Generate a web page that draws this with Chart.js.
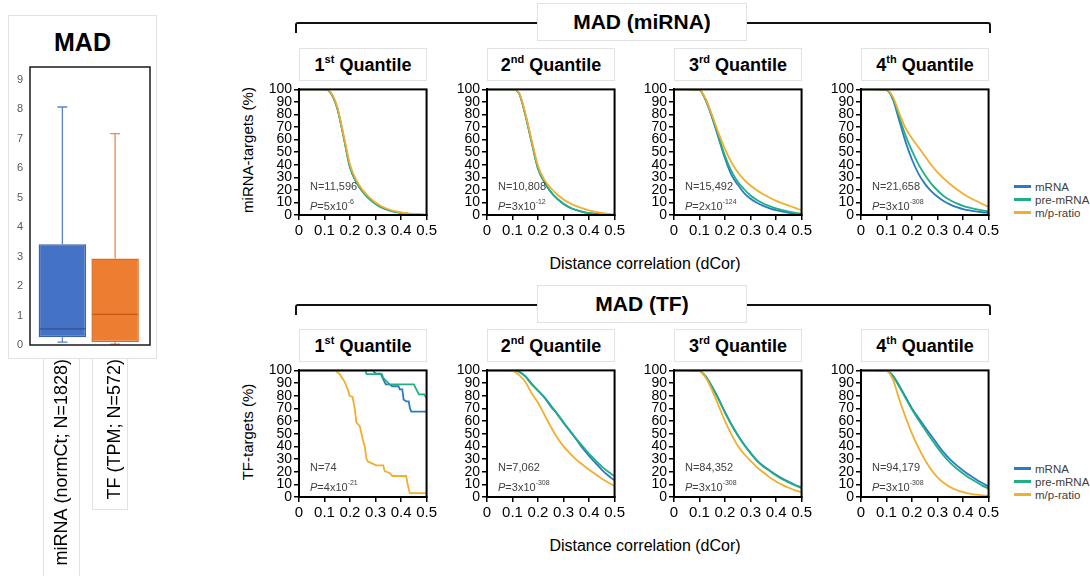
<!DOCTYPE html>
<html>
<head>
<meta charset="utf-8">
<script src="https://cdn.jsdelivr.net/npm/chart.js@4.4.1/dist/chart.umd.min.js"></script>
<style>
body{margin:0;width:1090px;height:576px;background:#fff;position:relative;overflow:hidden;font-family:"Liberation Sans",Arial,sans-serif;color:#000;}
canvas{position:absolute;z-index:2;}
.box{position:absolute;box-sizing:border-box;border:1px solid #e2e2e2;background:#fff;}
.qt{display:flex;align-items:center;justify-content:center;font-weight:bold;font-size:18px;z-index:1;}
.qt sup{font-size:11px;position:relative;top:-1px;}
.big{display:flex;align-items:center;justify-content:center;font-weight:bold;font-size:21px;z-index:3;}
.bracket{position:absolute;box-sizing:border-box;border:2px solid #111;border-bottom:none;border-radius:3px 3px 0 0;z-index:1;}
.ytitle{position:absolute;width:200px;height:20px;line-height:20px;text-align:center;font-size:15px;transform:rotate(-90deg);}
.xtitle{position:absolute;width:300px;height:20px;line-height:20px;text-align:center;font-size:16px;}
.note{position:absolute;font-size:11px;color:#404040;line-height:13px;z-index:3;white-space:nowrap;}
.note sup{font-size:7px;position:relative;top:-1px;}
.leg{position:absolute;font-size:11.5px;color:#404040;line-height:13px;white-space:nowrap;}
.leg span{display:inline-block;width:17px;height:3px;vertical-align:middle;margin-right:4px;position:relative;top:-1px;}
</style>
</head>
<body>
<script>
// ---- box plot (MAD) ----
const boxLabels = ["miRNA (normCt; N=1828)", "TF (TPM; N=572)"];
const boxMin = [0.1, 0.03];
const boxQ1 = [0.26, 0.1];
const boxMedian = [0.55, 1.04];
const boxQ3 = [3.42, 2.93];
const boxMax = [8.07, 7.17];

// ---- cumulative curves ----
const dcor = [0,0.05,0.1,0.125,0.15,0.175,0.2,0.225,0.25,0.275,0.3,0.325,0.35,0.375,0.4,0.425,0.45,0.475,0.5];

const mirnaMrna = [
[100,100,100,97,85,62,38,26,18.5,13,9,6,4,2.6,1.7,1.1,0.6,0.3,0.1],
[100,100,100,97,80,58,37,26,18.5,13,9,6,4,2.5,1.5,0.9,0.5,0.2,0.1],
[100,100,99.5,91,77,61,45,32,24,17.5,13,9.8,7.3,5.3,3.8,2.6,1.7,1,0.5],
[100,100,99.5,92,75,58,44,33,25,19,14.5,11,8.3,6.3,4.7,3.6,2.8,2.2,1.8]
];
const mirnaPre = [
[100,100,100,97,85,62,38,26,18.3,12.8,8.8,5.8,3.9,2.5,1.6,1,0.5,0.3,0.1],
[100,100,100,97,80,58,37,26,18.3,12.8,8.8,5.8,3.8,2.4,1.4,0.8,0.4,0.2,0.1],
[100,100,99.5,91.5,78,62.5,47,35,26.5,20.5,15.5,12,9.2,7,5.2,3.8,2.6,1.7,1],
[100,100,99.6,93,78,63,51,40.5,32,25,19.5,15,11.8,9.2,7.3,5.8,4.6,3.6,2.9]
];
const mirnaRatio = [
[100,100,100,97.5,86,63.5,40,27.5,19.8,14.3,10,6.8,4.6,3,2,1.3,0.8,0.4,0.2],
[100,100,100,97.5,81,59.5,39,28,21.5,16.3,12.3,9.3,7,5.2,3.7,2.5,1.6,0.9,0.4],
[100,100,99.7,92,79,65,52.5,42,34,28,23.5,19.7,16.5,13.7,11.3,9.3,7.5,5.6,3.8],
[100,100,99.7,94,81,69,61,54,47,40,34,29,24.5,20.5,17,14,11.3,8.8,6.5]
];
// TF quantiles 2-4 on the dcor grid
const tfMrna = [
[100,100,100,99,95.5,89.5,84,78.5,71.5,65.5,58.5,52,45.5,38.5,32.5,27,21.5,17,13],
[100,100,99.5,95,87,77.5,67,57.5,49,41.5,35,29,24.5,21,17.5,14.5,12,9.5,7.5],
[100,100,99.7,96,88,79,70,62.5,55.5,48.5,41.5,35,29.5,25,21,17.3,14,11,8.3]
];
const tfPre = [
[100,100,100,99,95,89,84,79,72.5,66,59,52.5,46,40,34,29,24,20,16.5],
[100,100,99.5,95,86.5,77,66.5,57,48.5,41,34.5,28.5,24,20.5,17,14,11.5,9.2,7],
[100,100,99.7,95.5,87,78,69,61,53.5,46,39,32.5,27,22.5,18.5,15,12,9,6.7]
];
const tfRatio = [
[100,100,99.5,96.5,91,82,74.5,65,55.5,47,40,34.5,29.5,25.5,21.5,18,14.5,11.5,8.5],
[100,100,99.5,94,84,72,60,49.5,40.5,34,28.5,23.5,19.5,15.5,12.3,9.6,7.3,5.3,3.8],
[100,100,99.5,93,77,63,50,39,29.5,21.5,15.5,11,7.8,5.5,3.8,2.6,1.8,1.3,1]
];
// TF quantile 1 (N=74) is a step curve
const tfQ1MrnaX = [0,0.29,0.3,0.32,0.33,0.34,0.355,0.365,0.39,0.395,0.405,0.41,0.42,0.43,0.435,0.44,0.5];
const tfQ1MrnaY = [100,100,97.5,97.5,93,89,89,87.5,87.5,85,85,77,75.5,75.5,70,67.5,67.5];
const tfQ1PreX = [0,0.26,0.265,0.325,0.33,0.345,0.355,0.45,0.46,0.47,0.49,0.5];
const tfQ1PreY = [100,100,97,97,94,91,89,89,85,81,81,78.5];
const tfQ1RatioX = [0,0.14,0.16,0.18,0.193,0.198,0.21,0.219,0.225,0.238,0.251,0.258,0.264,0.27,0.284,0.303,0.33,0.336,0.355,0.366,0.42,0.427,0.434,0.5];
const tfQ1RatioY = [100,100,97,90.6,84,80,79,69,59,56,44.6,39.5,30.6,28,26.8,25,25,20.4,19,16.6,16.6,9,3,3];

const quantileNames = ["1<sup>st</sup> Quantile","2<sup>nd</sup> Quantile","3<sup>rd</sup> Quantile","4<sup>th</sup> Quantile"];
const mirnaN = ["11,596","10,808","15,492","21,658"];
const mirnaP = [["5","-6"],["3","-12"],["2","-124"],["3","-308"]];
const tfN = ["74","7,062","84,352","94,179"];
const tfP = [["4","-21"],["3","-308"],["3","-308"],["3","-308"]];

const seriesNames = ["mRNA","pre-mRNA","m/p-ratio"];
const seriesColors = ["#2b7bbf","#1fae86","#f2ae2e"];

Chart.defaults.font.family = "'Liberation Sans', Arial, sans-serif";
Chart.defaults.color = "#000";

function el(tag, cls, css, html){
  const e = document.createElement(tag);
  if(cls) e.className = cls;
  Object.assign(e.style, css);
  if(html !== undefined) e.innerHTML = html;
  document.body.appendChild(e);
  return e;
}
function canvasAt(left, top, w, h){
  const c = document.createElement("canvas");
  c.width = w; c.height = h;
  c.style.left = left + "px"; c.style.top = top + "px";
  c.style.width = w + "px"; c.style.height = h + "px";
  document.body.appendChild(c);
  return c;
}

// ---------- box plot ----------
el("div","box",{left:"8px",top:"15px",width:"149px",height:"344px"});
el("div","box",{left:"43px",top:"358px",width:"37px",height:"220px"});
el("div","box",{left:"92px",top:"358px",width:"36px",height:"152px"});
el("div","",{position:"absolute",left:"8px",top:"28px",width:"149px",textAlign:"center",fontWeight:"bold",fontSize:"25px",lineHeight:"28px",zIndex:3},"MAD");

const boxFill = ["#4472c4","#ed7d31"];
const boxEdge = ["#3a62ad","#d96b22"];
const whiskerColor = ["#5a82c9","#e98a4c"];
const medianColor = ["#2f5597","#c55a11"];

const whiskers = {
  id:"whiskers",
  afterDatasetsDraw(chart){
    const y = chart.scales.y, c = chart.ctx;
    chart.getDatasetMeta(0).data.forEach((bar,i)=>{
      const x = bar.x, half = bar.width/2;
      const yMax = y.getPixelForValue(boxMax[i]), yQ3 = y.getPixelForValue(boxQ3[i]);
      const yMin = y.getPixelForValue(boxMin[i]), yQ1 = y.getPixelForValue(boxQ1[i]);
      const yMed = y.getPixelForValue(boxMedian[i]);
      c.save();
      c.strokeStyle = whiskerColor[i]; c.lineWidth = 1.3;
      c.beginPath();
      c.moveTo(x,yQ3); c.lineTo(x,yMax);
      c.moveTo(x-5,yMax); c.lineTo(x+5,yMax);
      c.moveTo(x,yQ1); c.lineTo(x,yMin);
      c.moveTo(x-5,yMin); c.lineTo(x+5,yMin);
      c.stroke();
      c.strokeStyle = medianColor[i]; c.lineWidth = 1.3;
      c.beginPath(); c.moveTo(x-half+1,yMed); c.lineTo(x+half-1,yMed); c.stroke();
      c.restore();
    });
  },
  afterDraw(chart){
    const c = chart.ctx;
    c.save(); c.strokeStyle = "#1a1a1a"; c.lineWidth = 1.5;
    c.strokeRect(22, 7, 120, 278);
    c.restore();
  }
};

new Chart(canvasAt(8,60,149,516), {
  type:"bar",
  data:{
    labels:boxLabels,
    datasets:[{
      data:boxLabels.map((_,i)=>[boxQ1[i],boxQ3[i]]),
      backgroundColor:boxFill,
      borderColor:boxEdge,
      borderWidth:1.5,
      borderSkipped:false,
      barPercentage:0.9,
      categoryPercentage:1
    }]
  },
  options:{
    responsive:false, animation:false,
    layout:{padding:{top:7,right:15.5,left:0,bottom:0}},
    plugins:{legend:{display:false},tooltip:{enabled:false}},
    scales:{
      x:{
        grid:{display:false,drawTicks:false}, border:{display:false},
        ticks:{minRotation:90,maxRotation:90,autoSkip:false,padding:14,font:{size:18},color:"#000"},
        afterFit(s){ s.height = 231; }
      },
      y:{
        min:0,max:9,
        ticks:{stepSize:1,autoSkip:false,font:{size:11},color:"#595959",padding:13},
        grid:{display:false,drawTicks:false}, border:{display:false},
        afterFit(s){ s.width = 28; }
      }
    }
  },
  plugins:[whiskers]
});

// ---------- cumulative panels ----------
const plotLefts = [299,487,674,861];
const plotW = 128;

const frame = {
  id:"frame",
  afterDraw(chart){
    const a = chart.chartArea, c = chart.ctx;
    c.save(); c.strokeStyle = "#000"; c.lineWidth = 2;
    c.strokeRect(a.left, a.top, a.right-a.left, a.bottom-a.top);
    c.restore();
  }
};

function pairs(xs, ys){ return xs.map((x,i)=>({x:x, y:ys[i]})); }

function lineChart(left, top, h, series, stepped){
  // series order: mRNA, pre-mRNA, m/p-ratio; ratio drawn on top
  const ds = [2,1,0].map(k=>({
    data:series[k],
    borderColor:seriesColors[k],
    borderWidth:1.8,
    pointRadius:0,
    tension:0,
    cubicInterpolationMode: stepped ? "default" : "monotone"
  }));
  new Chart(canvasAt(left-40, top-6, 40+plotW+12, 6+h+28), {
    type:"line",
    data:{datasets:ds},
    options:{
      responsive:false, animation:false,
      layout:{padding:{top:6,right:12,left:0,bottom:0}},
      plugins:{legend:{display:false},tooltip:{enabled:false}},
      scales:{
        x:{
          type:"linear", min:0, max:0.5,
          ticks:{stepSize:0.1,autoSkip:false,font:{size:15},color:"#000",padding:2,maxRotation:0,
                 callback:v=>String(Math.round(v*10)/10)},
          grid:{drawOnChartArea:false,drawTicks:true,tickLength:5,color:"#000",lineWidth:1.5},
          border:{color:"#000",width:2},
          afterFit(s){ s.height = 28; }
        },
        y:{
          min:0, max:100,
          ticks:{stepSize:10,autoSkip:false,font:{size:14},color:"#000",padding:2},
          grid:{drawOnChartArea:false,drawTicks:true,tickLength:5,color:"#000",lineWidth:1.5},
          border:{color:"#000",width:2},
          afterFit(s){ s.width = 40; }
        }
      }
    },
    plugins:[frame]
  });
}

function panelRow(rowTop, plotTop, plotH, titleText, yTitle, nList, pList, curves, legendTop){
  // bracket and main title
  el("div","bracket",{left:"295px",top:(rowTop+19)+"px",width:"696px",height:"11px"});
  el("div","box big",{left:"537px",top:rowTop+"px",width:"210px",height:"38px"},titleText);
  for(let q=0;q<4;q++){
    const L = plotLefts[q];
    el("div","box qt",{left:L+"px",top:(plotTop-37)+"px",width:plotW+"px",height:"33px"},"<span>"+quantileNames[q]+"</span>");
    lineChart(L, plotTop, plotH, curves[q], curves[q].stepped);
    el("div","note",{left:(L+11)+"px",top:(plotTop+95)+"px"},"N="+nList[q]);
    el("div","note",{left:(L+11)+"px",top:(plotTop+111)+"px"},
       "<i>P</i>="+pList[q][0]+"x10<sup>"+pList[q][1]+"</sup>");
  }
  const yt = el("div","ytitle",{left:(248-100)+"px",top:(plotTop+plotH/2-10)+"px"});
  yt.textContent = yTitle;
  const xt = el("div","xtitle",{left:(645-150)+"px",top:(plotTop+plotH+39)+"px"});
  xt.textContent = "Distance correlation (dCor)";
  seriesNames.forEach((n,k)=>{
    const lg = el("div","leg",{left:"1014px",top:(legendTop+k*13)+"px"});
    lg.innerHTML = '<span style="background:'+seriesColors[k]+'"></span>';
    lg.appendChild(document.createTextNode(n));
  });
}

const mirnaCurves = [0,1,2,3].map(q=>[
  pairs(dcor, mirnaMrna[q]), pairs(dcor, mirnaPre[q]), pairs(dcor, mirnaRatio[q])
]);
const tfQ1 = [pairs(tfQ1MrnaX,tfQ1MrnaY), pairs(tfQ1PreX,tfQ1PreY), pairs(tfQ1RatioX,tfQ1RatioY)];
tfQ1.stepped = true;
const tfCurves = [tfQ1].concat([0,1,2].map(q=>[
  pairs(dcor, tfMrna[q]), pairs(dcor, tfPre[q]), pairs(dcor, tfRatio[q])
]));

panelRow(3, 85, 130, "MAD (miRNA)", "miRNA-targets (%)", mirnaN, mirnaP, mirnaCurves, 181);
panelRow(285, 366, 131, "MAD (TF)", "TF-targets (%)", tfN, tfP, tfCurves, 463);
</script>
</body>
</html>
